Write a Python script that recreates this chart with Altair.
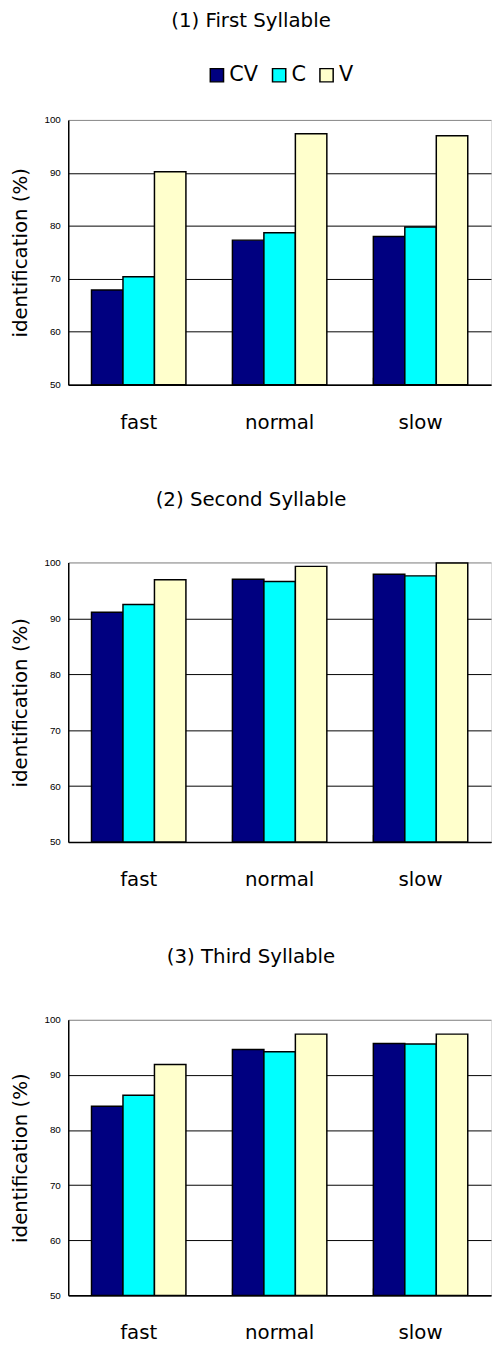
import altair as alt
import pandas as pd

speeds = ["fast", "normal", "slow"]
types = ["CV", "C", "V"]
colors = ["#000080", "#00FFFF", "#FFFFCC"]
titles = ["(1) First Syllable", "(2) Second Syllable", "(3) Third Syllable"]

first_cv = [67.9, 77.3, 78.0]
first_c = [70.4, 78.7, 79.8]
first_v = [90.2, 97.4, 97.0]

second_cv = [91.1, 97.0, 97.9]
second_c = [92.5, 96.6, 97.6]
second_v = [96.9, 99.3, 99.9]

third_cv = [84.3, 94.6, 95.7]
third_c = [86.3, 94.2, 95.6]
third_v = [91.9, 97.4, 97.4]

y_ticks = [50, 60, 70, 80, 90, 100]

W = 428
FONT = "DejaVu Sans"


def panel(title, cv, c, v, height, show_legend, title_offset):
    rows = []
    for t, vals in zip(types, [cv, c, v]):
        for s, val in zip(speeds, vals):
            rows.append({"speed": s, "type": t, "value": val})
    df = pd.DataFrame(rows)
    cats = pd.DataFrame({"speed": speeds})

    xscale = alt.Scale(domain=speeds, paddingInner=0.33, paddingOuter=0.165)
    if show_legend:
        legend = alt.Legend(
            title=None, orient="none", legendX=140, legendY=-56,
            direction="horizontal", symbolType="square", symbolSize=180,
            symbolStrokeColor="black", symbolStrokeWidth=1.5,
            labelFont=FONT, labelFontSize=21, labelColor="black",
            labelOffset=2, columnPadding=10,
        )
    else:
        legend = None

    yaxis = alt.Axis(
        values=y_ticks, title="identification (%)", grid=True,
        gridColor={"condition": {"test": "datum.value >= 100", "value": "#888888"}, "value": "#000000"},
        gridWidth=1, ticks=False, domainColor="black", domainWidth=1.5,
        labelFont="Liberation Sans", labelFontSize=10, labelColor="black", labelPadding=8,
        titleFont=FONT, titleFontSize=20, titleFontWeight="normal", titleColor="black",
        titleAngle=270, titleAlign="center", titleBaseline="middle",
        titleX=-48, titleY=height / 2,
    )
    xaxis = alt.Axis(
        title=None, labelAngle=0, ticks=False, domainColor="black", domainWidth=1.5,
        labelFont=FONT, labelFontSize=20, labelColor="black", labelPadding=28,
    )

    bars = alt.Chart(df).mark_bar(stroke="black", strokeWidth=1.5).encode(
        x=alt.X("speed:N", scale=xscale, sort=speeds, axis=xaxis),
        xOffset=alt.XOffset("type:N", sort=types,
                            scale=alt.Scale(domain=types, paddingInner=0, paddingOuter=0)),
        y=alt.Y("value:Q", scale=alt.Scale(domain=[50, 100], nice=False, zero=False), axis=yaxis),
        y2=alt.datum(50),
        color=alt.Color("type:N", scale=alt.Scale(domain=types, range=colors), legend=legend),
    )
    ticks = alt.Chart(cats).mark_rule(color="black", strokeWidth=1).encode(
        x=alt.X("speed:N", scale=xscale, sort=speeds, bandPosition=0, axis=xaxis),
        y=alt.value(height),
        y2=alt.value(height - 7),
    )
    return alt.layer(bars, ticks).properties(
        width=W, height=height,
        title=alt.TitleParams(title, font=FONT, fontSize=20, fontWeight="normal",
                              color="black", anchor="middle", frame="bounds",
                              offset=title_offset),
    )


p1 = panel(titles[0], first_cv, first_c, first_v, 268, True, 34)
p2 = panel(titles[1], second_cv, second_c, second_v, 283, False, 48)
p3 = panel(titles[2], third_cv, third_c, third_v, 279, False, 48)

chart = alt.vconcat(p1, p2, p3, spacing=57).resolve_legend(color="independent").properties(
    padding={"left": 2, "top": -6, "right": 0, "bottom": 0}
).configure_view(stroke="#888888", strokeWidth=1).configure(background="white")

chart.save("out.html", embed_options={"renderer": "svg", "actions": False})
